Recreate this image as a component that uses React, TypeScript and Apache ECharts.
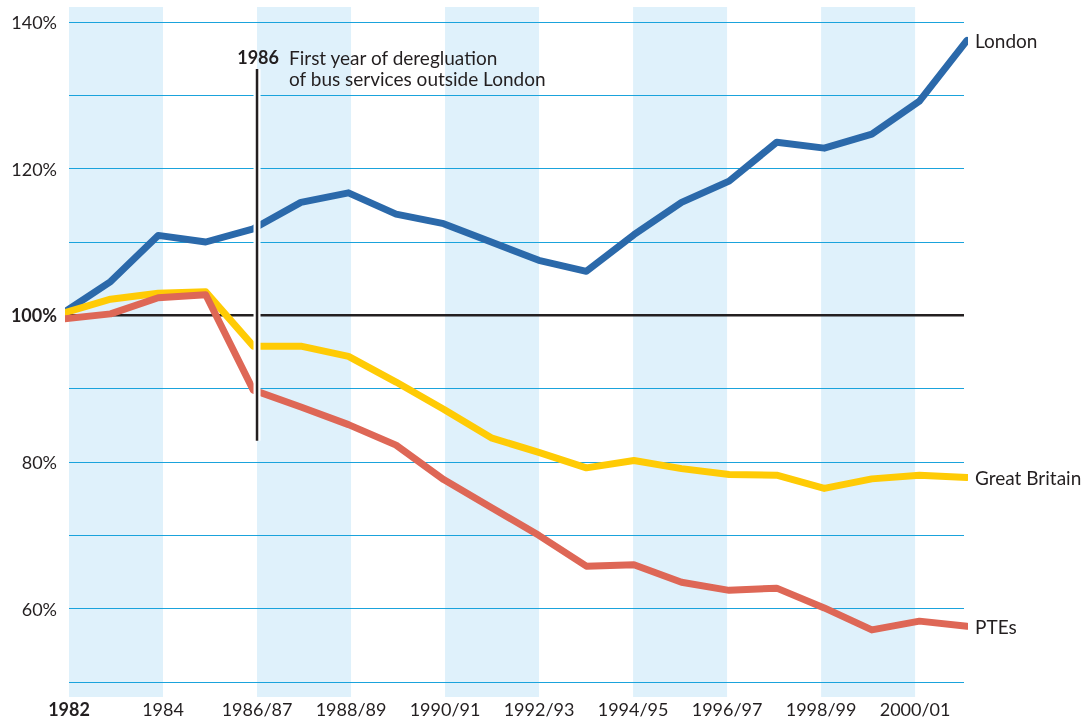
import React, { useEffect, useRef } from "react";
import * as echarts from "echarts";

// Data years (one point per year)
const years = [
  "1982", "1983", "1984", "1985/86", "1986/87", "1987/88", "1988/89", "1989/90",
  "1990/91", "1991/92", "1992/93", "1993/94", "1994/95", "1995/96", "1996/97",
  "1997/98", "1998/99", "1999/00", "2000/01", "2001/02",
];

// Index values (% of 1982)
const london = [
  100.3, 104.6, 110.9, 110.0, 111.8, 115.4, 116.7, 113.8, 112.5, 110.0,
  107.5, 106.0, 111.0, 115.4, 118.3, 123.6, 122.8, 124.7, 129.2, 137.5,
];
const greatBritain = [
  100.3, 102.2, 103.0, 103.2, 95.8, 95.8, 94.4, 90.9, 87.2, 83.3,
  81.3, 79.2, 80.2, 79.1, 78.3, 78.2, 76.4, 77.7, 78.2, 77.9,
];
const ptes = [
  99.5, 100.2, 102.4, 102.8, 89.8, 87.5, 85.1, 82.3, 77.6, 73.8,
  70.0, 65.8, 66.0, 63.6, 62.5, 62.8, 60.1, 57.1, 58.3, 57.6,
];

// Tick labels on the banded time axis (every two years)
const tickLabels = [
  "1982", "1984", "1986/87", "1988/89", "1990/91", "1992/93",
  "1994/95", "1996/97", "1998/99", "2000/01",
];
const yTickValues = [60, 80, 100, 120, 140];

// Annotation
const deregYearLabel = "1986";
const deregIndex = 4; // band-axis position of 1986/87
const deregText1 = "First year of deregluation";
const deregText2 = "of bus services outside London";
const deregLineRange = [133.6, 82.9];

const FONT = "Lato, 'Noto Sans', sans-serif";
const TEXT = "#231f20";
const GRID_COLOR = "#1aa3dc";
const BAND_COLOR = "#dff1fb";
const COLORS = { london: "#2b69aa", gb: "#ffcb05", ptes: "#de6756" };

// Axis extents (layout)
const BAND_MAX = 19.04;
const DATA_MIN = 0.126;
const DATA_MAX = 18.937;
const Y_OUTER_MIN = 47.955;
const Y_OUTER_MAX = 142.045;

export default function App() {
  const ref = useRef<HTMLDivElement>(null);

  useEffect(() => {
    if (!ref.current) return;
    const chart = echarts.init(ref.current, null, { renderer: "svg" });

    const bands: any[] = [];
    for (let k = 0; k + 2 <= tickLabels.length * 2 - 2; k += 4) {
      bands.push([{ xAxis: k }, { xAxis: k + 2 }]);
    }

    const mkLine = (name: string, vals: number[], color: string) => ({
      name,
      type: "line",
      xAxisIndex: 1,
      yAxisIndex: 1,
      data: vals.map((v, i) => [i, v]),
      symbol: "none",
      clip: false,
      z: 3,
      lineStyle: { color, width: 7, cap: "round", join: "round" },
      endLabel: {
        show: true,
        formatter: "{a}",
        distance: 8,
        fontFamily: FONT,
        fontSize: 19,
        color: TEXT,
      },
      emphasis: { disabled: true },
    });

    chart.setOption({
      animation: false,
      grid: [
        { left: 69, right: 119, top: 7, bottom: 23 },
        { left: 69, right: 119, top: 22, bottom: 38 },
      ],
      xAxis: [
        {
          gridIndex: 0,
          type: "value",
          min: 0,
          max: BAND_MAX,
          interval: 2,
          axisLine: { show: false },
          axisTick: { show: false },
          splitLine: { show: false },
          axisLabel: {
            margin: 5,
            fontFamily: FONT,
            fontSize: 18,
            lineHeight: 14,
            color: TEXT,
            hideOverlap: false,
            formatter: (v: number) => {
              const k = v / 2;
              if (!Number.isInteger(k) || !tickLabels[k]) return "";
              return k === 0 ? `{b|${tickLabels[k]}}` : tickLabels[k];
            },
            rich: {
              b: {
                fontFamily: FONT,
                fontSize: 18,
                lineHeight: 14,
                fontWeight: "bold",
                color: TEXT,
              },
            },
          },
        },
        {
          gridIndex: 1,
          type: "value",
          min: DATA_MIN,
          max: DATA_MAX,
          show: false,
        },
      ],
      yAxis: [
        { gridIndex: 0, type: "value", min: Y_OUTER_MIN, max: Y_OUTER_MAX, show: false },
        {
          gridIndex: 1,
          type: "value",
          min: 50,
          max: 140,
          interval: 10,
          z: 2,
          axisLine: { show: false },
          axisTick: { show: false },
          splitLine: { show: true, lineStyle: { color: GRID_COLOR, width: 1.2 } },
          axisLabel: {
            margin: 12,
            fontFamily: FONT,
            fontSize: 18,
            color: TEXT,
            formatter: (v: number) => {
              if (!yTickValues.includes(v)) return "";
              return v === 100 ? `{b|${v}%}` : `${v}%`;
            },
            rich: {
              b: { fontFamily: FONT, fontSize: 18, fontWeight: "bold", color: TEXT },
            },
          },
        },
      ],
      series: [
        {
          name: "bands",
          type: "line",
          xAxisIndex: 0,
          yAxisIndex: 0,
          data: [],
          symbol: "none",
          markArea: {
            silent: true,
            itemStyle: { color: BAND_COLOR },
            data: bands,
          },
        },
        {
          name: "base",
          type: "line",
          xAxisIndex: 1,
          yAxisIndex: 1,
          data: [
            [DATA_MIN, 100],
            [DATA_MAX, 100],
          ],
          symbol: "none",
          z: 2.5,
          lineStyle: { color: TEXT, width: 2.5 },
          emphasis: { disabled: true },
        },
        mkLine("London", london, COLORS.london),
        mkLine("Great Britain", greatBritain, COLORS.gb),
        mkLine("PTEs", ptes, COLORS.ptes),
        {
          name: "deregHalo",
          type: "line",
          xAxisIndex: 0,
          yAxisIndex: 0,
          data: deregLineRange.map((v) => [deregIndex, v]),
          symbol: "none",
          z: 4,
          lineStyle: { color: "#ffffff", width: 7 },
          emphasis: { disabled: true },
        },
        {
          name: "dereg",
          type: "line",
          xAxisIndex: 0,
          yAxisIndex: 0,
          data: deregLineRange.map((v) => [deregIndex, v]),
          symbol: "none",
          z: 5,
          lineStyle: { color: TEXT, width: 2.5 },
          emphasis: { disabled: true },
        },
      ],
      graphic: [
        {
          type: "text",
          x: 279,
          y: 57,
          z: 10,
          style: {
            text: deregYearLabel,
            font: `bold 18px ${FONT}`,
            fill: TEXT,
            textAlign: "right",
            textVerticalAlign: "middle",
          },
        },
        {
          type: "text",
          x: 289,
          y: 57,
          z: 10,
          style: {
            text: deregText1,
            font: `19px ${FONT}`,
            fill: TEXT,
            textAlign: "left",
            textVerticalAlign: "middle",
          },
        },
        {
          type: "text",
          x: 289,
          y: 78,
          z: 10,
          style: {
            text: deregText2,
            font: `19px ${FONT}`,
            fill: TEXT,
            textAlign: "left",
            textVerticalAlign: "middle",
          },
        },
      ],
    });

    return () => chart.dispose();
  }, []);

  return (
    <div
      ref={ref}
      style={{ position: "fixed", left: 0, top: 0, width: 1083, height: 720 }}
    />
  );
}
